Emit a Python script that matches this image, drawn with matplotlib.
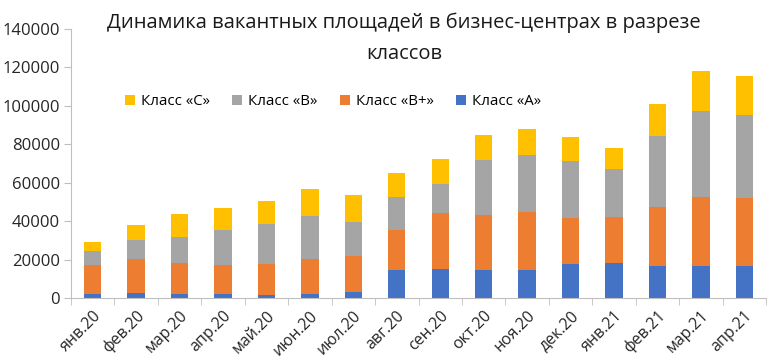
import matplotlib
matplotlib.use("Agg")
import matplotlib.pyplot as plt
import numpy as np

# месяцы
months = ["янв.20", "фев.20", "мар.20", "апр.20", "май.20", "июн.20", "июл.20", "авг.20",
          "сен.20", "окт.20", "ноя.20", "дек.20", "янв.21", "фев.21", "мар.21", "апр.21"]

# накопленные уровни, затем разности
top_a = [2100, 2600, 2100, 2100, 1600, 2100, 3100, 14700,
         15200, 14700, 14700, 17800, 18300, 16800, 16800, 16800]
top_bp = [17100, 20300, 18200, 17100, 17700, 20300, 22000, 35500,
          44300, 43300, 44800, 41700, 42200, 47400, 52600, 52100]
top_b = [24400, 30300, 31700, 35500, 38600, 42800, 39600, 52600,
         59400, 71700, 74300, 71200, 67000, 84300, 97100, 95100]
top_c = [29200, 37900, 43800, 46800, 50400, 56600, 53500, 64900,
         72400, 84700, 87800, 83600, 77900, 100800, 118400, 115300]

class_a = np.array(top_a)
class_bp = np.array(top_bp) - np.array(top_a)
class_b = np.array(top_b) - np.array(top_bp)
class_c = np.array(top_c) - np.array(top_b)

plt.rcParams['font.family'] = ['Open Sans', 'DejaVu Sans']

fig = plt.figure(figsize=(7.76, 3.61), dpi=100)
ax = fig.add_axes([71 / 776, 1 - 298 / 361, 695 / 776, 269 / 361])

x = np.arange(len(months))
w = 0.4
ax.bar(x, class_a, w, color="#4472C4", label="Класс «А»")
ax.bar(x, class_bp, w, bottom=class_a, color="#ED7D31", label="Класс «В+»")
ax.bar(x, class_b, w, bottom=class_a + class_bp, color="#A5A5A5", label="Класс «В»")
ax.bar(x, class_c, w, bottom=class_a + class_bp + class_b, color="#FFC000", label="Класс «С»")

ax.set_xlim(-0.5, len(months) - 0.5)
ax.set_ylim(0, 140000)
ax.set_yticks(range(0, 140001, 20000))
ax.set_xticks(x)
ax.set_xticklabels(months, rotation=45, ha="right", rotation_mode="anchor", fontsize=11.5, color="#262626")
ax.set_xticks(np.arange(-0.5, len(months), 1), minor=True)
ax.tick_params(axis="x", which="major", length=0, pad=7)
ax.tick_params(axis="x", which="minor", length=5, color="#BFBFBF")
ax.tick_params(axis="y", length=5, color="#BFBFBF", labelsize=12, labelcolor="#262626", pad=3)

for s in ["top", "right"]:
    ax.spines[s].set_visible(False)
ax.spines["left"].set_color("#BFBFBF")
ax.spines["bottom"].set_color("#BFBFBF")

handles, labels = ax.get_legend_handles_labels()
ax.legend(handles[::-1], labels[::-1], loc="center", bbox_to_anchor=(0.377, 0.729), ncol=4, frameon=False,
          fontsize=10.8, handlelength=0.7, handleheight=0.7, handletextpad=0.4, columnspacing=1.45)

fig.text(0.521, 0.965, "Динамика вакантных площадей в бизнес-центрах в разрезе\nклассов",
         ha="center", va="top", fontsize=14.5, color="#1a1a1a", linespacing=1.7)

fig.savefig("out.png", dpi=100)
